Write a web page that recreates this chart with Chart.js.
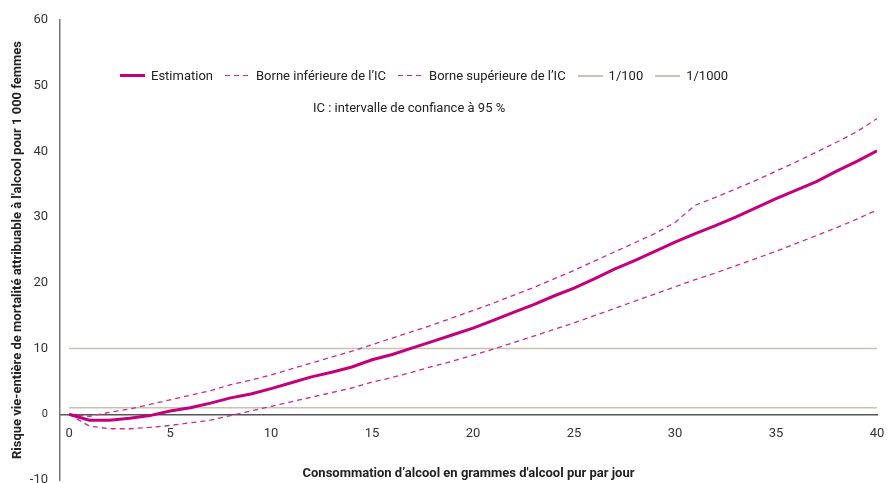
<!DOCTYPE html>
<html>
<head>
<meta charset="utf-8">
<script src="https://cdn.jsdelivr.net/npm/chart.js@4.4.1/dist/chart.umd.min.js"></script>
<style>
  html, body { margin: 0; padding: 0; background: #fff; }
  #wrap { position: relative; width: 889px; height: 483px; font-family: Roboto, sans-serif; }
  #legend {
    position: absolute; left: 120px; top: 68px;
    display: flex; align-items: center; font-size: 13px; color: #222;
  }
  .item { display: flex; align-items: center; margin-right: 12px; }
  .swatch { width: 25px; margin-right: 6px; }
  #note { position: absolute; left: 313px; top: 100px; font-size: 13px; color: #222; }
</style>
</head>
<body>
<div id="wrap">
  <canvas id="chart"></canvas>
  <div id="legend"></div>
  <div id="note">IC : intervalle de confiance à 95 %</div>
</div>
<script>
const doses = [0, 1, 2, 3, 4, 5, 6, 7, 8, 9, 10, 11, 12, 13, 14, 15, 16, 17, 18, 19, 20,
  21, 22, 23, 24, 25, 26, 27, 28, 29, 30, 31, 32, 33, 34, 35, 36, 37, 38, 39, 40]

const estimation = [0, -0.9, -0.9, -0.6, -0.2, 0.5, 1.0, 1.7, 2.5, 3.1, 3.9,
  4.8, 5.7, 6.4, 7.2, 8.3, 9.1, 10.1, 11.1, 12.1, 13.1,
  14.3, 15.5, 16.7, 18.0, 19.2, 20.6, 22.1, 23.4, 24.8, 26.2,
  27.5, 28.7, 30.0, 31.4, 32.8, 34.1, 35.4, 37.0, 38.5, 40.1]

const borneInf = [0, -1.8, -2.2, -2.2, -2.0, -1.7, -1.3, -0.9, -0.2, 0.5, 1.2,
  1.9, 2.6, 3.3, 4.0, 4.9, 5.6, 6.4, 7.3, 8.1, 9.0,
  9.9, 10.9, 11.9, 12.9, 13.9, 15.0, 16.1, 17.2, 18.3, 19.4,
  20.5, 21.5, 22.6, 23.7, 24.8, 26.0, 27.2, 28.4, 29.7, 31.1]

const borneSup = [0, -0.3, 0.3, 0.8, 1.5, 2.2, 2.9, 3.6, 4.5, 5.2, 6.0,
  6.9, 7.8, 8.7, 9.6, 10.6, 11.6, 12.6, 13.6, 14.7, 15.8,
  16.9, 18.1, 19.3, 20.6, 21.9, 23.3, 24.7, 26.1, 27.5, 29.2,
  31.8, 33.0, 34.3, 35.6, 37.0, 38.4, 39.9, 41.4, 43.0, 45.0]

const refX = [0, 40]
const ref100 = [10, 10]
const ref1000 = [1, 1]

const xTicks = [0, 5, 10, 15, 20, 25, 30, 35, 40]
const yTicks = [-10, 0, 10, 20, 30, 40, 50, 60]

const xTitle = 'Consommation d\u2019alcool en grammes d\'alcool pur par jour'
const yTitle = 'Risque vie-entière de mortalité attribuable à l\'alcool pour 1 000 femmes'

const MAGENTA = '#c4007a'
const MAGENTA_LIGHT = '#d0288a'
const BEIGE = '#c9c2b1'

const toPoints = (xs, ys) => xs.map((x, i) => ({ x, y: ys[i] }))

const xTitlePlugin = {
  id: 'xTitle',
  afterDraw(chart) {
    const { ctx, chartArea } = chart
    ctx.save()
    ctx.font = 'bold 13px Roboto'
    ctx.fillStyle = '#222'
    ctx.textAlign = 'center'
    ctx.textBaseline = 'middle'
    ctx.fillText(xTitle, (chartArea.left + chartArea.right) / 2, 474)
    ctx.restore()
  }
}

const chart = new Chart(document.getElementById('chart'), {
  type: 'line',
  data: {
    datasets: [
      {
        label: 'Estimation',
        data: toPoints(doses, estimation),
        borderColor: MAGENTA,
        borderWidth: 3,
        order: 0
      },
      {
        label: 'Borne inférieure de l\u2019IC',
        data: toPoints(doses, borneInf),
        borderColor: MAGENTA_LIGHT,
        borderWidth: 1.3,
        borderDash: [5, 4],
        order: 1
      },
      {
        label: 'Borne supérieure de l\u2019IC',
        data: toPoints(doses, borneSup),
        borderColor: MAGENTA_LIGHT,
        borderWidth: 1.3,
        borderDash: [5, 4],
        order: 1
      },
      {
        label: '1/100',
        data: toPoints(refX, ref100),
        borderColor: BEIGE,
        borderWidth: 1.5,
        order: 2
      },
      {
        label: '1/1000',
        data: toPoints(refX, ref1000),
        borderColor: BEIGE,
        borderWidth: 1.5,
        order: 2
      }
    ]
  },
  options: {
    responsive: true,
    maintainAspectRatio: false,
    animation: false,
    layout: { padding: { left: 0, top: 20, right: 12, bottom: 3 } },
    elements: {
      point: { radius: 0 },
      line: { tension: 0 }
    },
    scales: {
      x: {
        type: 'linear',
        position: { y: 0 },
        min: -0.45,
        max: 40,
        afterBuildTicks: scale => {
          scale.ticks = xTicks.map(value => ({ value }))
        },
        afterFit: scale => {
          scale.height = 0
          scale.paddingLeft = 0
          scale.paddingRight = 0
        },
        grid: { display: false, drawTicks: false },
        border: { color: '#555', width: 1.5 },
        ticks: {
          color: '#333',
          font: { family: 'Roboto', size: 13 },
          padding: 12,
          maxRotation: 0
        }
      },
      y: {
        min: -10,
        max: 60,
        afterBuildTicks: scale => {
          scale.ticks = yTicks.map(value => ({ value }))
        },
        afterFit: scale => {
          scale.width = 60
          scale.paddingTop = 0
          scale.paddingBottom = 0
        },
        grid: { display: false, drawTicks: false },
        border: { color: '#777', width: 1.5 },
        ticks: {
          color: '#333',
          padding: 12,
          font: ctx => ({
            family: 'Roboto',
            size: ctx.tick && ctx.tick.value === 0 ? 11 : 13
          })
        },
        title: {
          display: true,
          text: yTitle,
          color: '#222',
          font: { family: 'Roboto', size: 13, weight: 'bold' },
          padding: { top: 10, bottom: 0 }
        }
      }
    },
    plugins: {
      legend: { display: false },
      tooltip: { enabled: false }
    }
  },
  plugins: [xTitlePlugin]
})

// legend built from the datasets
const legendEl = document.getElementById('legend')
chart.data.datasets.forEach(ds => {
  const item = document.createElement('div')
  item.className = 'item'
  const sw = document.createElement('span')
  sw.className = 'swatch'
  if (ds.borderDash) {
    sw.style.height = '1.5px'
    sw.style.background = 'repeating-linear-gradient(to right, ' + ds.borderColor +
      ' 0 5px, transparent 5px 9px)'
  } else {
    sw.style.height = (ds.borderWidth === 3 ? 3 : 2) + 'px'
    sw.style.background = ds.borderColor
  }
  const txt = document.createElement('span')
  txt.textContent = ds.label
  item.appendChild(sw)
  item.appendChild(txt)
  legendEl.appendChild(item)
})
</script>
</body>
</html>
